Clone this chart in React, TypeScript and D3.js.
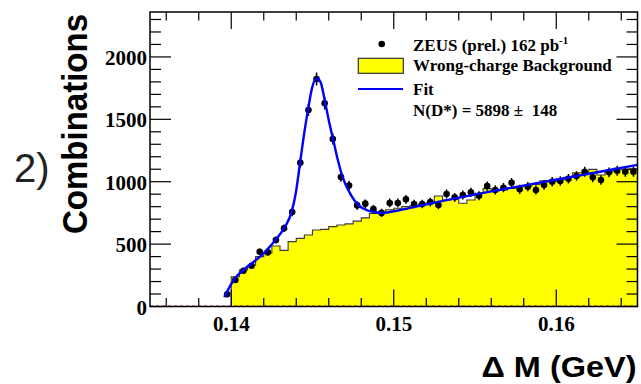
import React from "react";
import * as d3 from "d3";

// ---- data ----
const dataX = [
  0.13975, 0.14025, 0.14075, 0.14125, 0.14175, 0.14225, 0.14275, 0.14325, 0.14375, 0.14425,
  0.14475, 0.14525, 0.14575, 0.14625, 0.14675, 0.14725, 0.14775, 0.14825, 0.14875, 0.14925,
  0.14975, 0.15025, 0.15075, 0.15125, 0.15175, 0.15225, 0.15275, 0.15325, 0.15375, 0.15425,
  0.15475, 0.15525, 0.15575, 0.15625, 0.15675, 0.15725, 0.15775, 0.15825, 0.15875, 0.15925,
  0.15975, 0.16025, 0.16075, 0.16125, 0.16175, 0.16225, 0.16275, 0.16325, 0.16375, 0.16425,
  0.16475,
];
const dataY = [
  98, 212, 287, 327, 439, 434, 533, 627, 757, 1152,
  1575, 1823, 1628, 1342, 1038, 970, 810, 824, 780, 750,
  830, 830, 859, 821, 821, 837, 813, 901, 875, 893,
  915, 888, 965, 934, 952, 992, 939, 960, 934, 974,
  1000, 1006, 1024, 1046, 1080, 1035, 1014, 1075, 1088, 1080,
  1080,
];

// wrong-charge background histogram: bin edges and contents
const bgEdges = [
  0.14, 0.1405, 0.141, 0.1415, 0.142, 0.1425, 0.143, 0.1435, 0.144, 0.1445,
  0.145, 0.1455, 0.146, 0.1465, 0.147, 0.1475, 0.148, 0.1485, 0.149, 0.1495,
  0.15, 0.1505, 0.151, 0.1515, 0.152, 0.1525, 0.153, 0.1535, 0.154, 0.1545,
  0.155, 0.1555, 0.156, 0.1565, 0.157, 0.1575, 0.158, 0.1585, 0.159, 0.1595,
  0.16, 0.1605, 0.161, 0.1615, 0.162, 0.1625, 0.163, 0.1635, 0.164, 0.1645,
  0.165,
];
const bgY = [
  239, 292, 330, 400, 430, 485, 450, 520, 546, 573,
  613, 618, 640, 653, 662, 684, 710, 745, 755, 775,
  787, 800, 808, 819, 832, 885, 853, 859, 827, 853,
  907, 945, 928, 933, 947, 960, 965, 979, 1008, 1000,
  1019, 1035, 1072, 1072, 1099, 1054, 1080, 1107, 1099, 1104,
];

// fit curve
const fitX = [
  0.13957, 0.14023, 0.14074, 0.14126, 0.14177, 0.14228, 0.1428, 0.14331, 0.14372, 0.14397,
  0.14423, 0.14448, 0.14474, 0.14497, 0.14526, 0.14549, 0.14577, 0.14602, 0.14628, 0.14653,
  0.1468, 0.14704, 0.14731, 0.14782, 0.14834, 0.14885, 0.14926, 0.15039, 0.15182, 0.15592,
  0.16023, 0.165,
];
const fitY = [
  75, 226, 292, 346, 399, 466, 546, 639, 760, 907,
  1147, 1380, 1590, 1750, 1830, 1800, 1641, 1480, 1334, 1190,
  1060, 975, 907, 813, 773, 757, 750, 773, 813, 920,
  1022, 1135,
];

const xMajor = [0.14, 0.15, 0.16];
const xMajorLabels = ["0.14", "0.15", "0.16"];
const yMajor = [0, 500, 1000, 1500, 2000];
const yMajorLabels = ["0", "500", "1000", "1500", "2000"];

const legendLines = [
  "ZEUS (prel.) 162 pb",
  "Wrong-charge Background",
  "Fit",
  "N(D*) = 5898 \u00b1  148",
];

// ---- layout ----
const W = 641;
const H = 384;
const L = 150;
const R = 637.5;
const T = 12;
const B = 306.5;

export default function App() {
  const x = d3.scaleLinear().domain([0.135, 0.165]).range([L, R]);
  const y = d3.scaleLinear().domain([0, 2360]).range([B, T]);

  const xMinor = d3.range(0.136, 0.1649, 0.002).filter(
    (v) => !xMajor.some((m) => Math.abs(m - v) < 1e-6)
  );
  const yMinor = d3.range(100, 2360, 100).filter((v) => v % 500 !== 0);

  // histogram step path
  const hist: [number, number][] = [];
  bgY.forEach((v, i) => {
    hist.push([bgEdges[i], v]);
    hist.push([bgEdges[i + 1], v]);
  });
  const area = d3
    .area<[number, number]>()
    .x((d) => x(d[0]))
    .y0(y(0))
    .y1((d) => y(d[1]));
  const line = d3
    .line<[number, number]>()
    .x((d) => x(d[0]))
    .y((d) => y(d[1]));
  const outline = line([[bgEdges[0], 0], ...hist, [bgEdges[bgEdges.length - 1], 0]]) || "";

  const fitLine = d3
    .line<number>()
    .x((_, i) => x(fitX[i]))
    .y((d) => y(d))
    .curve(d3.curveMonotoneX);

  const serif = "'Liberation Serif', 'Times New Roman', serif";
  const sans = "'Liberation Sans', Arial, Helvetica, sans-serif";

  return (
    <svg
      width={W}
      height={H}
      style={{ position: "absolute", left: 0, top: 0, background: "#fff" }}
    >
      <defs>
        <clipPath id="frame">
          <rect x={L} y={T} width={R - L} height={B - T} />
        </clipPath>
      </defs>

      <g clipPath="url(#frame)">
        <path d={area(hist) || ""} fill="#ffff00" stroke="none" />
        <path d={outline} fill="none" stroke="#3a3a3a" strokeWidth={1.1} />
        <line
          x1={L}
          x2={R}
          y1={B - 0.5}
          y2={B - 0.5}
          stroke="#b03030"
          strokeWidth={1}
          strokeDasharray="3,3"
        />
        {/* data points */}
        {dataY.map((v, i) => {
          const e = Math.sqrt(v) * 1.2;
          return (
            <g key={i}>
              <line
                x1={x(dataX[i])}
                x2={x(dataX[i])}
                y1={y(v - e)}
                y2={y(v + e)}
                stroke="#000"
                strokeWidth={1.5}
              />
              <circle cx={x(dataX[i])} cy={y(v)} r={3.3} fill="#000" />
            </g>
          );
        })}
        <path d={fitLine(fitY) || ""} fill="none" stroke="#0000ff" strokeWidth={2.4} />
      </g>

      {/* ticks */}
      <g stroke="#000" strokeWidth={1.2}>
        {xMajor.map((v) => (
          <g key={"xM" + v}>
            <line x1={x(v)} x2={x(v)} y1={B} y2={B - 17} />
            <line x1={x(v)} x2={x(v)} y1={T} y2={T + 17} />
          </g>
        ))}
        {xMinor.map((v) => (
          <g key={"xm" + v}>
            <line x1={x(v)} x2={x(v)} y1={B} y2={B - 8.5} />
            <line x1={x(v)} x2={x(v)} y1={T} y2={T + 8.5} />
          </g>
        ))}
        {yMajor.map((v) => (
          <g key={"yM" + v}>
            <line x1={L} x2={L + 21} y1={y(v)} y2={y(v)} />
            <line x1={R} x2={R - 21} y1={y(v)} y2={y(v)} />
          </g>
        ))}
        {yMinor.map((v) => (
          <g key={"ym" + v}>
            <line x1={L} x2={L + 11} y1={y(v)} y2={y(v)} />
            <line x1={R} x2={R - 11} y1={y(v)} y2={y(v)} />
          </g>
        ))}
      </g>

      <rect
        x={L}
        y={T}
        width={R - L}
        height={B - T}
        fill="none"
        stroke="#000"
        strokeWidth={1.5}
      />

      {/* tick labels */}
      <g fontFamily={serif} fontWeight="bold" fontSize={21} fill="#000">
        {xMajor.map((v, i) => (
          <text key={"xl" + v} x={x(v)} y={331} textAnchor="middle">
            {xMajorLabels[i]}
          </text>
        ))}
        {yMajor.map((v, i) => (
          <text key={"yl" + v} x={147} y={y(v) + 8} textAnchor="end">
            {yMajorLabels[i]}
          </text>
        ))}
      </g>

      {/* axis titles */}
      <text
        x={0}
        y={0}
        transform="translate(87,124) rotate(-90)"
        textAnchor="middle"
        fontFamily={sans}
        fontWeight="bold"
        fontSize={35}
        textLength={220}
        lengthAdjust="spacingAndGlyphs"
        fill="#000"
      >
        Combinations
      </text>
      <text x={14} y={182} fontFamily={sans} fontSize={40} fill="#222">
        2)
      </text>
      <text
        x={636.5}
        y={376.5}
        textAnchor="end"
        fontFamily={sans}
        fontWeight="bold"
        fontSize={29}
        textLength={155}
        lengthAdjust="spacingAndGlyphs"
        fill="#000"
      >
        {"\u0394 M (GeV)"}
      </text>

      {/* legend */}
      <circle cx={381.7} cy={44} r={3.3} fill="#000" />
      <rect x={358.3} y={58.3} width={45} height={15} fill="#ffff00" stroke="#333" strokeWidth={1.2} />
      <line x1={358} x2={403} y1={89} y2={89} stroke="#0000ff" strokeWidth={2} />
      <g fontFamily={serif} fontWeight="bold" fontSize={17} fill="#000">
        <text x={413} y={50.7}>
          {legendLines[0]}
          <tspan fontSize={11} dy={-7}>
            -1
          </tspan>
        </text>
        <text x={413} y={70.5}>{legendLines[1]}</text>
        <text x={413} y={95}>{legendLines[2]}</text>
        <text x={413} y={116} style={{ whiteSpace: "pre" }}>
          {legendLines[3]}
        </text>
      </g>
    </svg>
  );
}
